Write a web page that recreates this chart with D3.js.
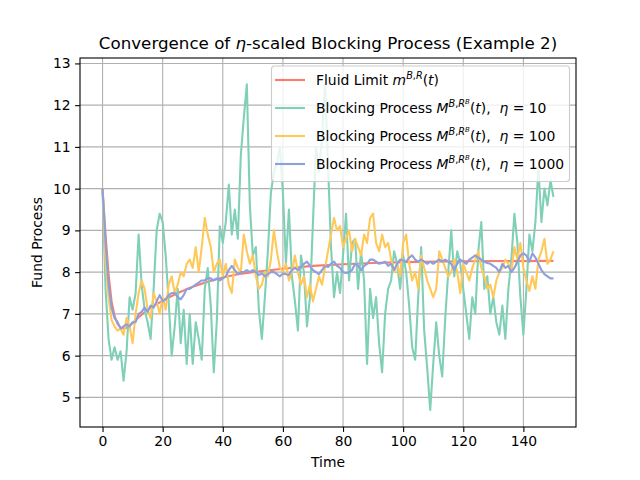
<!DOCTYPE html>
<html>
<head>
<meta charset="utf-8">
<script src="https://cdn.jsdelivr.net/npm/d3@7/dist/d3.min.js"></script>
<style>
  body { margin: 0; background: #fff; }
  svg { display: block; font-family: "DejaVu Sans", sans-serif; }
  text { white-space: pre; }
</style>
</head>
<body>
<div id="chart"></div>
<script>
// fluid limit m^{B,R}(t), read at a few times
const fluidTimes = [0, 1, 2, 3, 4, 5, 6, 7, 8, 10, 12, 15, 20, 25, 30, 35, 40, 45, 50, 60, 70, 80, 90, 100, 120, 150];
const fluidValues = [10.0, 8.9, 7.95, 7.3, 6.95, 6.76, 6.67, 6.65, 6.67, 6.78, 6.92, 7.1, 7.32, 7.5, 7.65, 7.77, 7.87, 7.95, 8.0, 8.08, 8.15, 8.19, 8.22, 8.24, 8.26, 8.27];

// blocking process sample paths, one value per time unit
const times = d3.range(0, 151);
const eta10 = [
  10.0, 7.6, 6.4, 5.9, 6.2, 5.9, 6.1, 5.4, 6.1, 7.4,
  7.1, 7.5, 8.9, 7.7, 7.1, 6.8, 6.4, 7.6, 9.0, 9.4,
  9.2, 8.4, 7.3, 6.0, 6.7, 7.6, 6.3, 7.1, 5.8, 7.0,
  5.8, 6.8, 6.4, 5.9, 7.6, 8.1, 7.2, 5.6, 6.8, 9.1,
  8.7, 9.2, 10.1, 8.9, 9.5, 8.8, 10.8, 11.7, 12.5, 9.6,
  8.4, 8.6, 7.1, 6.4, 7.4, 8.5, 9.9, 10.4, 10.6, 11.0,
  9.9, 8.2, 9.5, 7.9, 7.3, 6.6, 8.4, 8.0, 6.7, 7.4,
  9.2, 11.0, 10.4, 11.2, 12.5, 10.6, 8.6, 7.4, 8.0, 7.5,
  8.4, 9.4, 7.8, 8.7, 8.8, 7.6, 8.5, 7.8, 5.8, 7.6,
  6.9, 7.4, 6.3, 5.6, 7.0, 7.6, 7.8, 8.5, 8.2, 7.6,
  8.4, 8.0, 7.2, 6.2, 5.9, 7.4, 8.6, 6.6, 5.7, 4.7,
  5.8, 6.8, 6.0, 5.5, 6.9, 8.0, 9.0, 7.9, 8.5, 8.2,
  7.6, 7.0, 6.4, 7.4, 7.0, 8.5, 9.2, 7.6, 7.9, 7.0,
  7.4, 6.8, 6.5, 7.2, 6.4, 7.6, 8.3, 9.4, 8.7, 7.4,
  6.5, 7.6, 8.9, 8.5, 9.2, 10.5, 9.2, 10.0, 9.6, 10.2,
  9.8
];
const eta100 = [
  10.0, 8.3, 7.4, 6.85, 6.7, 6.6, 6.65, 6.5, 6.9, 6.7,
  6.3, 7.0, 7.5, 7.8, 7.6, 7.1, 6.9, 7.5, 7.3, 7.0,
  7.4, 7.1, 7.7, 7.9, 7.5, 7.7, 8.0, 7.9, 8.2, 8.3,
  8.1, 8.6, 8.0, 8.6, 9.3, 8.9, 8.6, 8.0, 8.2, 8.3,
  7.9, 8.2, 7.7, 7.5, 8.3, 8.1, 8.0, 8.9, 8.5, 8.2,
  8.4, 7.9, 7.6, 7.7, 8.0, 7.9, 8.3, 9.0, 8.5, 8.1,
  8.0, 8.2, 7.8, 8.0, 8.4, 8.0, 7.7, 7.9, 7.4, 7.7,
  7.3, 7.6, 7.9, 7.7, 8.1, 8.5, 8.9, 9.3, 9.0, 9.1,
  8.6, 8.8, 9.0, 8.5, 8.8, 8.6, 8.4, 8.9, 8.7, 9.3,
  9.4, 8.7, 8.5, 8.9, 8.6, 8.7, 8.3, 8.0, 8.2, 7.9,
  8.7, 8.9, 8.2, 7.8, 8.0, 7.6, 8.4, 8.1, 7.8, 7.6,
  7.4, 7.6, 8.5, 8.3, 8.1, 7.9, 8.0, 8.3, 8.0, 7.5,
  8.2, 8.0, 7.8, 8.1, 8.3, 8.5, 8.1, 7.9, 7.6, 7.7,
  7.4, 7.8, 8.0, 8.1, 8.3, 8.2, 8.0, 8.6, 8.3, 8.7,
  8.1, 7.8, 7.55, 7.9, 7.6, 8.3, 8.5, 8.8, 8.2, 8.3,
  8.5
];
const eta1000 = [
  10.0, 8.7, 7.7, 7.15, 6.9, 6.8, 6.65, 6.7, 6.75, 6.7,
  6.8, 6.8, 7.0, 7.05, 7.15, 7.05, 7.2, 7.15, 7.3, 7.45,
  7.3, 7.35, 7.45, 7.5, 7.5, 7.4, 7.35, 7.45, 7.6, 7.6,
  7.65, 7.7, 7.75, 7.8, 7.8, 7.85, 7.85, 7.8, 7.85, 7.8,
  7.85, 7.9, 8.05, 8.15, 8.05, 7.95, 8.0, 8.0, 8.05, 8.0,
  8.05, 8.0, 7.93, 7.97, 7.9, 7.95, 8.0, 8.0, 7.95, 7.9,
  7.97, 7.95, 7.93, 8.05, 8.1, 8.05, 8.12, 8.2, 8.25, 8.15,
  8.05, 8.0, 7.95, 8.05, 8.15, 8.12, 8.2, 8.25, 8.15, 8.1,
  8.0, 7.98, 8.0, 8.05, 8.2, 8.15, 8.05, 8.15, 8.2, 8.3,
  8.3, 8.25, 8.2, 8.22, 8.25, 8.15, 8.2, 8.05, 8.2, 8.3,
  8.28, 8.25, 8.35, 8.4, 8.3, 8.25, 8.3, 8.25, 8.2, 8.25,
  8.2, 8.25, 8.3, 8.25, 8.3, 8.25, 8.2, 8.05, 8.2, 8.3,
  8.25, 8.2, 8.3, 8.35, 8.4, 8.35, 8.3, 8.25, 8.22, 8.2,
  8.15, 8.1, 8.0, 8.2, 8.1, 8.15, 8.0, 8.1, 8.25, 8.4,
  8.45, 8.4, 8.25, 8.45, 8.35, 8.2, 8.05, 7.95, 7.9, 7.85,
  7.85
];
const etaLabels = ["10", "100", "1000"];

const xTicks = [0, 20, 40, 60, 80, 100, 120, 140];
const yTicks = [5, 6, 7, 8, 9, 10, 11, 12, 13];

const width = 640, height = 480;
const plot = { left: 80, right: 576, top: 58, bottom: 427 };
const fontSize = 13.9;

const svg = d3.select("#chart").append("svg")
  .attr("width", width)
  .attr("height", height);

const x = d3.scaleLinear().domain([-7.5, 157.5]).range([plot.left, plot.right]);
const y = d3.scaleLinear().domain([4.29, 13.13]).range([plot.bottom, plot.top]);

svg.append("defs").append("clipPath").attr("id", "plot-clip")
  .append("rect")
  .attr("x", plot.left).attr("y", plot.top)
  .attr("width", plot.right - plot.left).attr("height", plot.bottom - plot.top);

// grid
const grid = svg.append("g").attr("stroke", "#b0b0b0").attr("stroke-width", 1.1);
grid.selectAll("line.vx").data(xTicks).join("line")
  .attr("x1", (d) => x(d)).attr("x2", (d) => x(d))
  .attr("y1", plot.top).attr("y2", plot.bottom);
grid.selectAll("line.hy").data(yTicks).join("line")
  .attr("y1", (d) => y(d)).attr("y2", (d) => y(d))
  .attr("x1", plot.left).attr("x2", plot.right);

// series
const series = [
  { xs: fluidTimes, ys: fluidValues, color: "#fa7c6c" },
  { xs: times, ys: eta10, color: "#80d0b8" },
  { xs: times, ys: eta100, color: "#ffc95a" },
  { xs: times, ys: eta1000, color: "#8e9fde" },
];

const line = d3.line().x((d) => x(d[0])).y((d) => y(d[1]));
const lines = svg.append("g").attr("clip-path", "url(#plot-clip)");
series.forEach((s) => {
  lines.append("path")
    .attr("d", line(s.xs.map((t, i) => [t, s.ys[i]])))
    .attr("fill", "none")
    .attr("stroke", s.color)
    .attr("stroke-width", 2.1)
    .attr("stroke-linejoin", "round");
});

// axes
const xAxis = svg.append("g")
  .attr("transform", `translate(0,${plot.bottom})`)
  .call(d3.axisBottom(x).tickValues(xTicks).tickSize(4.9).tickPadding(4.5).tickFormat(d3.format("d")));
const yAxis = svg.append("g")
  .attr("transform", `translate(${plot.left},0)`)
  .call(d3.axisLeft(y).tickValues(yTicks).tickSize(4.9).tickPadding(4.5).tickFormat(d3.format("d")));
[xAxis, yAxis].forEach((a) => {
  a.select(".domain").remove();
  a.selectAll(".tick line").attr("stroke", "#000").attr("stroke-width", 1.1);
  a.selectAll(".tick text")
    .attr("fill", "#000")
    .attr("font-size", fontSize)
    .attr("font-family", "DejaVu Sans");
});

svg.append("rect")
  .attr("x", plot.left).attr("y", plot.top)
  .attr("width", plot.right - plot.left).attr("height", plot.bottom - plot.top)
  .attr("fill", "none").attr("stroke", "#000").attr("stroke-width", 1.1);

// labels
svg.append("text")
  .attr("x", (plot.left + plot.right) / 2).attr("y", 467)
  .attr("text-anchor", "middle").attr("font-size", fontSize)
  .text("Time");

svg.append("text")
  .attr("transform", `translate(42,${(plot.top + plot.bottom) / 2}) rotate(-90)`)
  .attr("text-anchor", "middle").attr("font-size", fontSize)
  .text("Fund Process");

// rich text helper: parts with level 0 (base), 1 (sup), 2 (sup of sup)
const levelSize = [1, 0.7, 0.5];
const levelShift = [0, -5.6, -9.2];
function richText(sel, parts, size) {
  let cur = 0;
  parts.forEach((p) => {
    const lvl = p.lvl || 0;
    sel.append("tspan")
      .attr("dy", levelShift[lvl] - cur)
      .attr("font-size", size * levelSize[lvl])
      .attr("font-style", p.it ? "italic" : "normal")
      .text(p.t);
    cur = levelShift[lvl];
  });
}

const title = svg.append("text")
  .attr("x", (plot.left + plot.right) / 2).attr("y", 49)
  .attr("text-anchor", "middle").attr("font-size", 16.7);
richText(title, [
  { t: "Convergence of " },
  { t: "η", it: true },
  { t: "-scaled Blocking Process (Example 2)" },
], 16.7);

// legend
const legend = svg.append("g");
legend.append("rect")
  .attr("x", 271.5).attr("y", 66)
  .attr("width", 298).attr("height", 115.5)
  .attr("rx", 3)
  .attr("fill", "#fff").attr("fill-opacity", 0.8)
  .attr("stroke", "#cccccc").attr("stroke-width", 1.1);

const legendParts = [
  [{ t: "Fluid Limit " }, { t: "m", it: true }, { t: "B", it: true, lvl: 1 }, { t: ",", lvl: 1 },
   { t: "R", it: true, lvl: 1 }, { t: "(" }, { t: "t", it: true }, { t: ")" }],
];
etaLabels.forEach((e) => {
  legendParts.push([
    { t: "Blocking Process " }, { t: "M", it: true }, { t: "B", it: true, lvl: 1 }, { t: ",", lvl: 1 },
    { t: "R", it: true, lvl: 1 }, { t: "B", it: true, lvl: 2 }, { t: "(" }, { t: "t", it: true },
    { t: "),  " }, { t: "η", it: true }, { t: " = " + e },
  ]);
});

const rowY = [80, 108, 136, 164];
legendParts.forEach((parts, i) => {
  legend.append("line")
    .attr("x1", 275).attr("x2", 305)
    .attr("y1", rowY[i]).attr("y2", rowY[i])
    .attr("stroke", series[i].color).attr("stroke-width", 2.1);
  const t = legend.append("text")
    .attr("x", 316).attr("y", rowY[i] + 5)
    .attr("font-size", fontSize);
  richText(t, parts, fontSize);
});
</script>
</body>
</html>
